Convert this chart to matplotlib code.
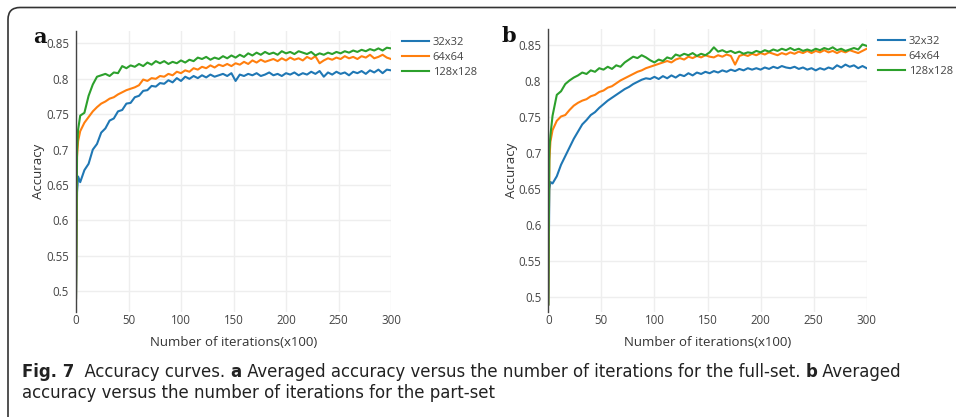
import numpy as np
import matplotlib
matplotlib.use("Agg")
import matplotlib.pyplot as plt
from matplotlib.patches import FancyBboxPatch

iters = [0, 1, 2] + list(range(4, 301, 4))
labels = ["32x32", "64x64", "128x128"]
colors = ["#1f77b4", "#ff7f0e", "#2ca02c"]

# panel a: full-set
a_32 = [0.490, 0.640, 0.662, 0.654, 0.671, 0.680, 0.700, 0.708, 0.724, 0.730,
        0.741, 0.744, 0.754, 0.756, 0.765, 0.766, 0.774, 0.776, 0.783, 0.784,
        0.790, 0.789, 0.794, 0.793, 0.798, 0.795, 0.801, 0.797, 0.803, 0.800,
        0.804, 0.801, 0.805, 0.802, 0.806, 0.803, 0.805, 0.807, 0.804, 0.808,
        0.797, 0.806, 0.804, 0.807, 0.805, 0.808, 0.804, 0.806, 0.809, 0.805,
        0.807, 0.804, 0.808, 0.806, 0.809, 0.805, 0.808, 0.806, 0.810, 0.807,
        0.811, 0.803, 0.809, 0.806, 0.810, 0.807, 0.809, 0.805, 0.810, 0.808,
        0.811, 0.807, 0.812, 0.809, 0.813, 0.808, 0.813, 0.812]
a_64 = [0.490, 0.690, 0.712, 0.726, 0.738, 0.746, 0.754, 0.760, 0.765, 0.768,
        0.772, 0.774, 0.778, 0.781, 0.784, 0.786, 0.788, 0.791, 0.799, 0.797,
        0.801, 0.800, 0.804, 0.803, 0.807, 0.805, 0.810, 0.808, 0.812, 0.810,
        0.815, 0.813, 0.817, 0.815, 0.819, 0.816, 0.820, 0.818, 0.821, 0.818,
        0.822, 0.820, 0.824, 0.821, 0.826, 0.823, 0.827, 0.824, 0.826, 0.828,
        0.825, 0.829, 0.826, 0.830, 0.827, 0.829, 0.826, 0.831, 0.828, 0.832,
        0.822, 0.826, 0.829, 0.827, 0.830, 0.828, 0.832, 0.829, 0.831, 0.828,
        0.832, 0.830, 0.834, 0.829, 0.831, 0.834, 0.830, 0.828]
a_128 = [0.490, 0.700, 0.728, 0.748, 0.752, 0.776, 0.792, 0.803, 0.805, 0.807,
         0.804, 0.809, 0.808, 0.818, 0.815, 0.819, 0.817, 0.821, 0.818, 0.823,
         0.820, 0.825, 0.822, 0.825, 0.821, 0.824, 0.822, 0.826, 0.823, 0.827,
         0.825, 0.830, 0.828, 0.831, 0.827, 0.830, 0.828, 0.832, 0.829, 0.833,
         0.830, 0.834, 0.831, 0.836, 0.833, 0.837, 0.834, 0.838, 0.835, 0.837,
         0.834, 0.839, 0.836, 0.838, 0.835, 0.839, 0.837, 0.835, 0.838, 0.833,
         0.836, 0.834, 0.837, 0.835, 0.838, 0.836, 0.839, 0.837, 0.840, 0.838,
         0.841, 0.839, 0.842, 0.840, 0.843, 0.840, 0.844, 0.843]

# panel b: part-set
b_32 = [0.490, 0.650, 0.660, 0.658, 0.668, 0.684, 0.696, 0.708, 0.720, 0.730,
        0.740, 0.746, 0.753, 0.757, 0.763, 0.768, 0.773, 0.777, 0.781, 0.785,
        0.789, 0.792, 0.796, 0.799, 0.802, 0.804, 0.803, 0.806, 0.803, 0.807,
        0.804, 0.808, 0.805, 0.809, 0.807, 0.811, 0.808, 0.812, 0.810, 0.813,
        0.811, 0.814, 0.812, 0.815, 0.813, 0.816, 0.814, 0.817, 0.815, 0.818,
        0.816, 0.818, 0.816, 0.819, 0.817, 0.820, 0.818, 0.821, 0.819, 0.818,
        0.820, 0.817, 0.819, 0.816, 0.818, 0.815, 0.818, 0.816, 0.819, 0.817,
        0.822, 0.819, 0.823, 0.820, 0.822, 0.818, 0.821, 0.818]
b_64 = [0.490, 0.690, 0.716, 0.732, 0.745, 0.751, 0.753, 0.760, 0.766, 0.770,
        0.773, 0.775, 0.779, 0.781, 0.785, 0.787, 0.791, 0.793, 0.797, 0.801,
        0.804, 0.807, 0.810, 0.813, 0.815, 0.818, 0.820, 0.822, 0.824, 0.826,
        0.828, 0.826, 0.830, 0.832, 0.830, 0.834, 0.832, 0.835, 0.833, 0.836,
        0.834, 0.833, 0.836, 0.834, 0.837, 0.835, 0.823, 0.835, 0.837, 0.835,
        0.838, 0.836, 0.839, 0.837, 0.840, 0.838, 0.836, 0.839, 0.837, 0.840,
        0.838, 0.841, 0.839, 0.842, 0.839, 0.842, 0.840, 0.843, 0.840, 0.842,
        0.839, 0.842, 0.840, 0.843, 0.841, 0.839, 0.842, 0.845]
b_128 = [0.490, 0.705, 0.725, 0.752, 0.781, 0.786, 0.796, 0.801, 0.805, 0.808,
         0.812, 0.810, 0.815, 0.813, 0.818, 0.816, 0.820, 0.817, 0.822, 0.820,
         0.826, 0.830, 0.834, 0.832, 0.836, 0.833, 0.829, 0.826, 0.830, 0.828,
         0.833, 0.831, 0.837, 0.835, 0.838, 0.836, 0.839, 0.835, 0.838, 0.836,
         0.840, 0.847, 0.841, 0.843, 0.840, 0.842, 0.839, 0.841, 0.838, 0.840,
         0.839, 0.842, 0.840, 0.843, 0.841, 0.844, 0.842, 0.845, 0.843, 0.846,
         0.843, 0.845, 0.842, 0.844, 0.842, 0.845, 0.843, 0.846, 0.844, 0.847,
         0.843, 0.845, 0.842, 0.844, 0.846, 0.844, 0.851, 0.849]

yticks = [0.5, 0.55, 0.6, 0.65, 0.7, 0.75, 0.8, 0.85]
ytick_labels = ["0.5", "0.55", "0.6", "0.65", "0.7", "0.75", "0.8", "0.85"]
xticks = [0, 50, 100, 150, 200, 250, 300]

W, H = 956, 417
fig = plt.figure(figsize=(W / 100, H / 100), dpi=100)
fig.patch.set_facecolor("white")

def px(x0, y0, x1, y1):
    # pixel box (top-left origin) -> figure fraction rect
    return [x0 / W, 1 - y1 / H, (x1 - x0) / W, (y1 - y0) / H]

panels = [
    dict(rect=px(76, 30.7, 391, 311.7), ylim=(0.471, 0.868), data=[a_32, a_64, a_128],
         letter="a", letter_xy=(33, 37), leg_xy=(402, 37)),
    dict(rect=px(548.3, 29.3, 866.7, 311.7), ylim=(0.480, 0.872), data=[b_32, b_64, b_128],
         letter="b", letter_xy=(502, 36), leg_xy=(878, 36)),
]

for p in panels:
    ax = fig.add_axes(p["rect"])
    for series, lab, col in zip(p["data"], labels, colors):
        ax.plot(iters, series, color=col, lw=1.5, label=lab)
    ax.set_xlim(0, 300)
    ax.set_ylim(*p["ylim"])
    ax.set_xticks(xticks)
    ax.set_yticks(yticks)
    ax.set_yticklabels(ytick_labels)
    for t in ax.get_xticklabels() + ax.get_yticklabels():
        t.set_fontfamily("Open Sans")
        t.set_fontsize(8.3)
        t.set_color("#444444")
    ax.tick_params(axis="x", length=0, pad=2)
    ax.tick_params(axis="y", length=0, pad=5)
    ax.grid(True, color="#eeeeee", lw=1)
    ax.set_axisbelow(True)
    for s in ["top", "right", "bottom"]:
        ax.spines[s].set_visible(False)
    ax.spines["left"].set_color("#444444")
    ax.spines["left"].set_linewidth(1)
    ax.set_xlabel("Number of iterations(x100)", fontdict=dict(family="Open Sans", size=9.5, color="#333333"), labelpad=6)
    ax.set_ylabel("Accuracy", fontdict=dict(family="Open Sans", size=9.5, color="#333333"), labelpad=0.5)
    leg = ax.legend(loc="upper left", bbox_to_anchor=(p["leg_xy"][0] / W, 1 - p["leg_xy"][1] / H),
                    bbox_transform=fig.transFigure, frameon=False, handlelength=2.4,
                    handletextpad=0.35, labelspacing=0.35, borderpad=0, borderaxespad=0,
                    prop=dict(family="Open Sans", size=8))
    for t in leg.get_texts():
        t.set_color("#444444")
    fig.text(p["letter_xy"][0] / W, 1 - p["letter_xy"][1] / H, p["letter"],
             family="DejaVu Serif", weight="bold", size=15, va="center", ha="left", color="#111111")

# frame around the figure (open at right and bottom, cut by the page)
frame = FancyBboxPatch((8, -30), 1100, H - 7.5 + 30,
                       boxstyle="round,pad=0,rounding_size=12",
                       transform=None, fill=False, ec="#333333", lw=1.2)
fig.patches.append(frame)

renderer = fig.canvas.get_renderer()

def write_line(pieces, x, y):
    for txt, bold in pieces:
        t = fig.text(x / W, 1 - y / H, txt, family="DejaVu Sans", stretch="condensed", size=13.2,
                     weight="bold" if bold else "normal", va="baseline", ha="left", color="#222222")
        bb = t.get_window_extent(renderer=renderer)
        x += bb.width

write_line([("Fig. 7", True), ("  Accuracy curves. ", False), ("a", True),
            (" Averaged accuracy versus the number of iterations for the full-set. ", False),
            ("b", True), (" Averaged", False)], 22, 377)
write_line([("accuracy versus the number of iterations for the part-set", False)], 22, 398)

fig.savefig("out.png", dpi=100, facecolor="white")
